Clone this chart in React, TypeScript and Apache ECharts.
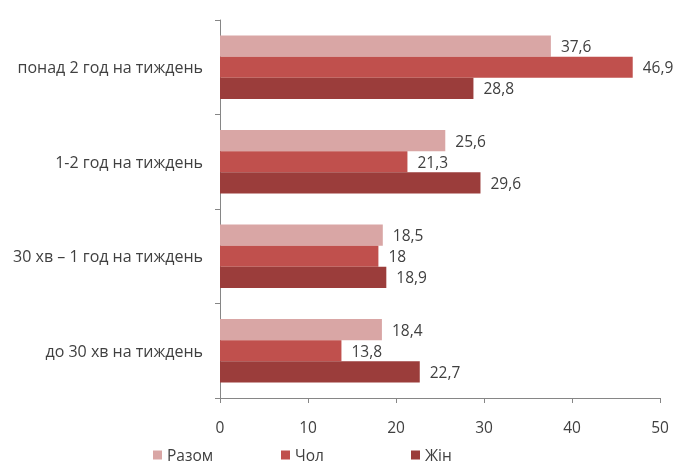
import React, { useEffect, useRef } from "react";
import * as echarts from "echarts";

const categories = [
  "понад 2 год на тиждень",
  "1-2 год на тиждень",
  "30 хв – 1 год на тиждень",
  "до 30 хв на тиждень",
];
const seriesNames = ["Разом", "Чол", "Жін"];
const razom = [37.6, 25.6, 18.5, 18.4];
const chol = [46.9, 21.3, 18, 13.8];
const zhin = [28.8, 29.6, 18.9, 22.7];
const xTicks = { min: 0, max: 50, interval: 10 };
const colors = ["#D9A6A5", "#C0504D", "#9B3D3B"];
const legendLeft = [153, 281, 411];

const FONT = "'Open Sans', Lato, sans-serif";
const FS = 15.5;
const FS_CAT = 16;

export default function App() {
  const ref = useRef<HTMLDivElement>(null);
  useEffect(() => {
    if (!ref.current) return;
    const chart = echarts.init(ref.current, undefined, { renderer: "svg" });
    const values = [razom, chol, zhin];
    chart.setOption({
      animation: false,
      textStyle: { fontFamily: FONT },
      grid: { left: 220, right: 30, top: 20, bottom: 67 },
      legend: seriesNames.map((n, i) => ({
        data: [n],
        left: legendLeft[i],
        top: 447,
        padding: 0,
        icon: "rect",
        itemWidth: 9,
        itemHeight: 9,
        itemGap: 6,
        textStyle: { fontFamily: FONT, fontSize: FS, color: "#404040", lineHeight: 16 },
      })),
      xAxis: {
        type: "value",
        min: xTicks.min,
        max: xTicks.max,
        interval: xTicks.interval,
        splitLine: { show: false },
        axisLine: { show: true, lineStyle: { color: "#868686" } },
        axisTick: { show: true, length: 5, lineStyle: { color: "#868686" } },
        axisLabel: { color: "#404040", fontSize: FS, margin: 21, fontFamily: FONT },
      },
      yAxis: {
        type: "category",
        data: categories,
        inverse: true,
        axisLine: { show: true, lineStyle: { color: "#868686" } },
        axisTick: { show: true, length: 5, lineStyle: { color: "#868686" } },
        axisLabel: { color: "#404040", fontSize: FS_CAT, margin: 17, fontFamily: FONT },
      },
      series: seriesNames.map((n, i) => ({
        name: n,
        type: "bar",
        data: values[i],
        barGap: "0%",
        barCategoryGap: "33%",
        itemStyle: { color: colors[i] },
        label: {
          show: true,
          position: "right",
          distance: 10,
          color: "#404040",
          fontSize: FS,
          fontFamily: FONT,
          formatter: (p: any) => String(p.value).replace(".", ","),
        },
      })),
    });
    return () => chart.dispose();
  }, []);
  return (
    <div
      ref={ref}
      style={{ position: "fixed", left: 0, top: 0, width: 690, height: 465 }}
    />
  );
}
